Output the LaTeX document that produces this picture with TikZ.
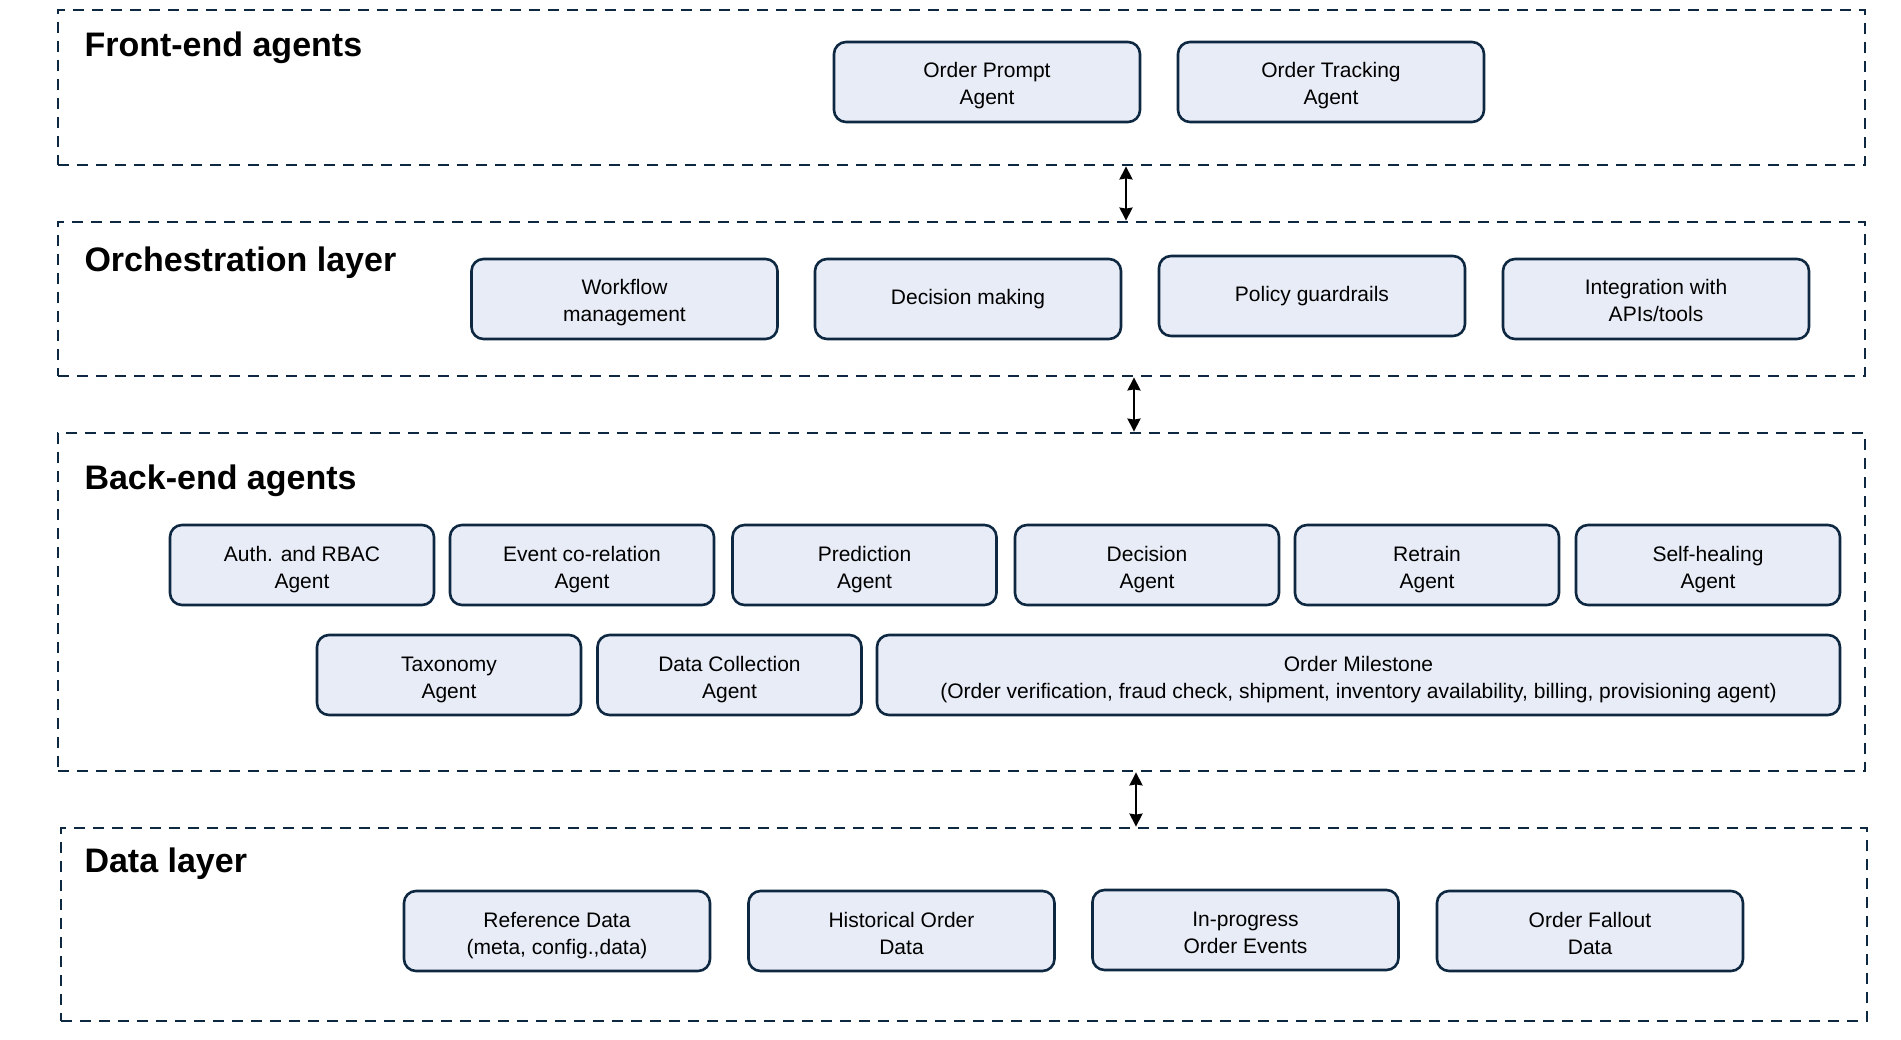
\documentclass[tikz,border=0pt]{standalone}
\usepackage{fontspec}
\setmainfont{Liberation Sans}
\usepackage{xcolor}
\usetikzlibrary{arrows.meta,positioning}
\definecolor{navy}{HTML}{0E2841}
\definecolor{boxfill}{HTML}{E8ECF6}

\begin{document}
\begin{tikzpicture}[x=1pt,y=-1pt,
    layerbox/.style={draw=navy,line width=2.8pt,dash pattern=on 11pt off 8pt,
      minimum width=1807,inner sep=0pt},
    layertitle/.style={anchor=west,font=\fontsize{34}{40}\selectfont\bfseries},
    onebox/.style={draw=navy,fill=boxfill,line width=2.6pt,rounded corners=12pt,
      minimum width=306,minimum height=80,align=center,inner sep=0pt,
      font=\fontsize{21}{27}\selectfont},
    agentbox/.style={onebox,text height=51pt,text depth=5pt},
    smallbox/.style={agentbox,minimum width=264},
    biarrow/.style={{Stealth[length=13pt,width=13pt,inset=1pt]}-{Stealth[length=13pt,width=13pt,inset=1pt]},
      line width=2.2pt,black}]
  \useasboundingbox (0,0) rectangle (1901,1040);

  % layers
  \node[layerbox,minimum height=155] (front) at (961.5,87.5) {};
  \node[layerbox,minimum height=154] (orch)  at (961.5,299) {};
  \node[layerbox,minimum height=338] (back)  at (961.5,602) {};
  \node[layerbox,minimum width=1806,minimum height=193] (data) at (964,924.5) {};

  \node[layertitle] (fronttitle) at (81,47.5)  {Front-end agents};
  \node[layertitle] (orchtitle)  at (81,262.5) {Orchestration layer};
  \node[layertitle] (backtitle)  at (81,480.5) {Back-end agents};
  \node[layertitle] (datatitle)  at (81,864)   {Data layer};

  % front-end
  \node[agentbox] (prompt)   at (987,82)  {Order Prompt\\Agent};
  \node[agentbox] (tracking) at (1331,82) {Order Tracking\\Agent};

  % orchestration
  \node[agentbox] (workflow) at (624.5,299) {Workflow\\management};
  \node[onebox]   (decmake)  at (968,299)   {Decision making};
  \node[onebox]   (policy)   at (1312,296)  {Policy guardrails};
  \node[agentbox] (integr)   at (1656,299)  {Integration with\\APIs/tools};

  % back-end
  \foreach \x/\n/\t in {302/auth/Auth. and RBAC,582/event/Event co-relation,
      864.5/predict/Prediction,1147/decision/Decision,1427/retrain/Retrain,
      1708/selfheal/Self-healing}
    \node[smallbox] (\n) at (\x,565) {\t\\Agent};
  \node[smallbox] (taxonomy) at (449,675)   {Taxonomy\\Agent};
  \node[smallbox] (collect)  at (729.5,675) {Data Collection\\Agent};
  \node[agentbox,minimum width=963] (milestone) at (1358.5,675)
    {Order Milestone\\(Order verification, fraud check, shipment, inventory availability, billing, provisioning agent)};

  % data
  \node[agentbox] (refdata)  at (557,931)    {Reference Data\\(meta, config.,data)};
  \node[agentbox] (history)  at (901.5,931)  {Historical Order\\Data};
  \node[agentbox] (progress) at (1245.5,930) {In-progress\\Order Events};
  \node[agentbox] (fallout)  at (1590,931)   {Order Fallout\\Data};

  % links between layers
  \draw[biarrow] ([xshift=164.5pt]front.south) -- ([xshift=164.5pt]orch.north);
  \draw[biarrow] ([xshift=172.5pt]orch.south) -- ([xshift=172.5pt]back.north);
  \draw[biarrow] ([xshift=174.5pt]back.south) -- ([xshift=172pt]data.north);
\end{tikzpicture}
\end{document}
